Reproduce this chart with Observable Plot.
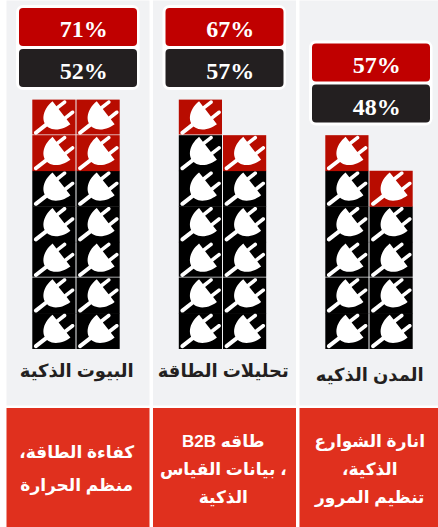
<!DOCTYPE html>
<html lang="ar"><head><meta charset="utf-8">
<script src="https://cdn.jsdelivr.net/npm/d3@7"></script>
<script src="https://cdn.jsdelivr.net/npm/@observablehq/plot@0.6"></script>
<style>html,body{margin:0;padding:0;background:#fff}svg{display:block}.ar text{direction:rtl}</style>
</head><body><div id="chart"></div>
<script>
const categories = ["البيوت الذكية", "تحليلات الطاقة", "المدن الذكيه"];
const redPercent = [71, 67, 57];
const blackPercent = [52, 57, 48];
// tiles per stack [left, right] and how many of them are red
const stackTiles = [[7, 7], [7, 6], [6, 5]];
const redTiles = [[2, 2], [1, 1], [1, 1]];
const useCases = [
  ["كفاءة الطاقة،", "منظم الحرارة"],
  ["طاقه B2B", "، بيانات القياس", "الذكية"],
  ["انارة الشوارع", "الذكية،", "تنظيم المرور"]
];

const tiles = [];
categories.forEach((c, i) => stackTiles[i].forEach((n, s) => {
  for (let r = 0; r < n; r++) tiles.push({c, s, r, isRed: r >= n - redTiles[i][s]});
}));
const heads = categories.map((c, i) => ({c, rows: d3.max(stackTiles[i]), red: redPercent[i], black: blackPercent[i]}));
const rows = [];
categories.forEach((c, i) => useCases[i].forEach((t, k) => rows.push({c, t, k, n: useCases[i].length})));

// plug glyph: one closed outline in local units along its own axis, then turned
const plug = {draw(ctx, size) {
  const u = Math.sqrt(size / Math.PI) / 10, a = -38 * Math.PI / 180, ca = Math.cos(a), sa = Math.sin(a);
  const arc = (cx, cy, rx, ry, t0, t1) => d3.range(13).map(i => {
    const t = t0 + (t1 - t0) * i / 12;
    return [cx + rx * Math.cos(t), cy + ry * Math.sin(t)];
  });
  const P = Math.PI / 2, RX = 20, RY = 14.5, f = 9, w = 1.8, c = 6.5, tip = 18, cord = 2, end = -23.5;
  const k = Math.asin(cord / RY);
  const outline = [
    ...arc(end, 0, cord, cord, P, 3 * P),
    ...arc(f, 0, RX, RY, 2 * P + k, 3 * P),
    [f, -c - w], ...arc(tip, -c, w, w, -P, P), [f, -c + w],
    [f, c - w], ...arc(tip, c, w, w, -P, P), [f, c + w],
    ...arc(f, 0, RX, RY, P, 2 * P - k)
  ];
  outline.forEach(([x, y], i) => {
    const px = u * (x * ca - y * sa), py = u * (x * sa + y * ca);
    i ? ctx.lineTo(px, py) : ctx.moveTo(px, py);
  });
  ctx.closePath();
}};

const serif = "Georgia, 'Liberation Serif', 'DejaVu Serif', serif";
const sans = "Arial, 'Liberation Sans', 'DejaVu Sans', sans-serif";

const chart = Plot.plot({
  width: 438, height: 527, margin: 0,
  style: {background: "#fff"},
  fx: {domain: categories, range: [6, 445.5], padding: 0, round: false, axis: null},
  x: {type: "band", domain: [0, 1], range: [26.3, 114.7], padding: 0, round: false, axis: null},
  y: {domain: [-5.004, 9.81], range: [527, 0], axis: null},
  marks: [
    Plot.frame({fill: "#f1f2f4", stroke: null, insetRight: 3.5, insetBottom: 122}),
    Plot.frame({fill: "#e0301e", stroke: null, insetRight: 3.5, insetTop: 407.5}),
    Plot.rect(tiles, {fx: "c", x: "s", y1: d => d.r + (d.r === 2 || d.r === 6 ? 0.03 : 0), y2: d => d.r + 1.01, fill: d => d.isRed ? "#b80c00" : "#000000", insetRight: 1}),
    Plot.dot(tiles, {fx: "c", x: "s", y: d => d.r + 0.5, r: 10, symbol: plug, fill: "#fff", stroke: null, dx: -0.5}),
    Plot.rect(heads, {fx: "c", y1: d => d.rows + 0.28, y2: d => d.rows + 2.67, fill: "#fff", rx: 7, insetLeft: 10, insetRight: 13}),
    Plot.rect(heads, {fx: "c", y1: d => d.rows + 0.365, y2: d => d.rows + 1.433, fill: "#231f20", rx: 4, insetLeft: 13, insetRight: 15.5}),
    Plot.rect(heads, {fx: "c", y1: d => d.rows + 1.517, y2: d => d.rows + 2.585, fill: "#c00000", rx: 4, insetLeft: 13, insetRight: 15.5}),
    Plot.text(heads, {fx: "c", y: d => d.rows + 0.82, text: d => d.black + "%", fill: "#fff", fontFamily: serif, fontWeight: "bold", fontSize: 24, dx: 4}),
    Plot.text(heads, {fx: "c", y: d => d.rows + 2, text: d => d.red + "%", fill: "#fff", fontFamily: serif, fontWeight: "bold", fontSize: 24, dx: 4}),
    Plot.text(categories, {fx: d => d, y: d => d === categories[2] ? -0.72 : -0.62, text: d => d, fill: "#231f20", fontFamily: sans, fontWeight: "bold", fontSize: 18, dx: -3, className: "ar"}),
    Plot.text(rows, {fx: "c", y: d => d.n === 2 ? -2.91 - d.k * 0.92 : -2.6 - d.k * 0.78, text: "t", fill: "#fff", fontFamily: sans, fontWeight: "bold", fontSize: 17, dx: -3, className: "ar"})
  ]
});
document.getElementById("chart").append(chart);
</script></body></html>
